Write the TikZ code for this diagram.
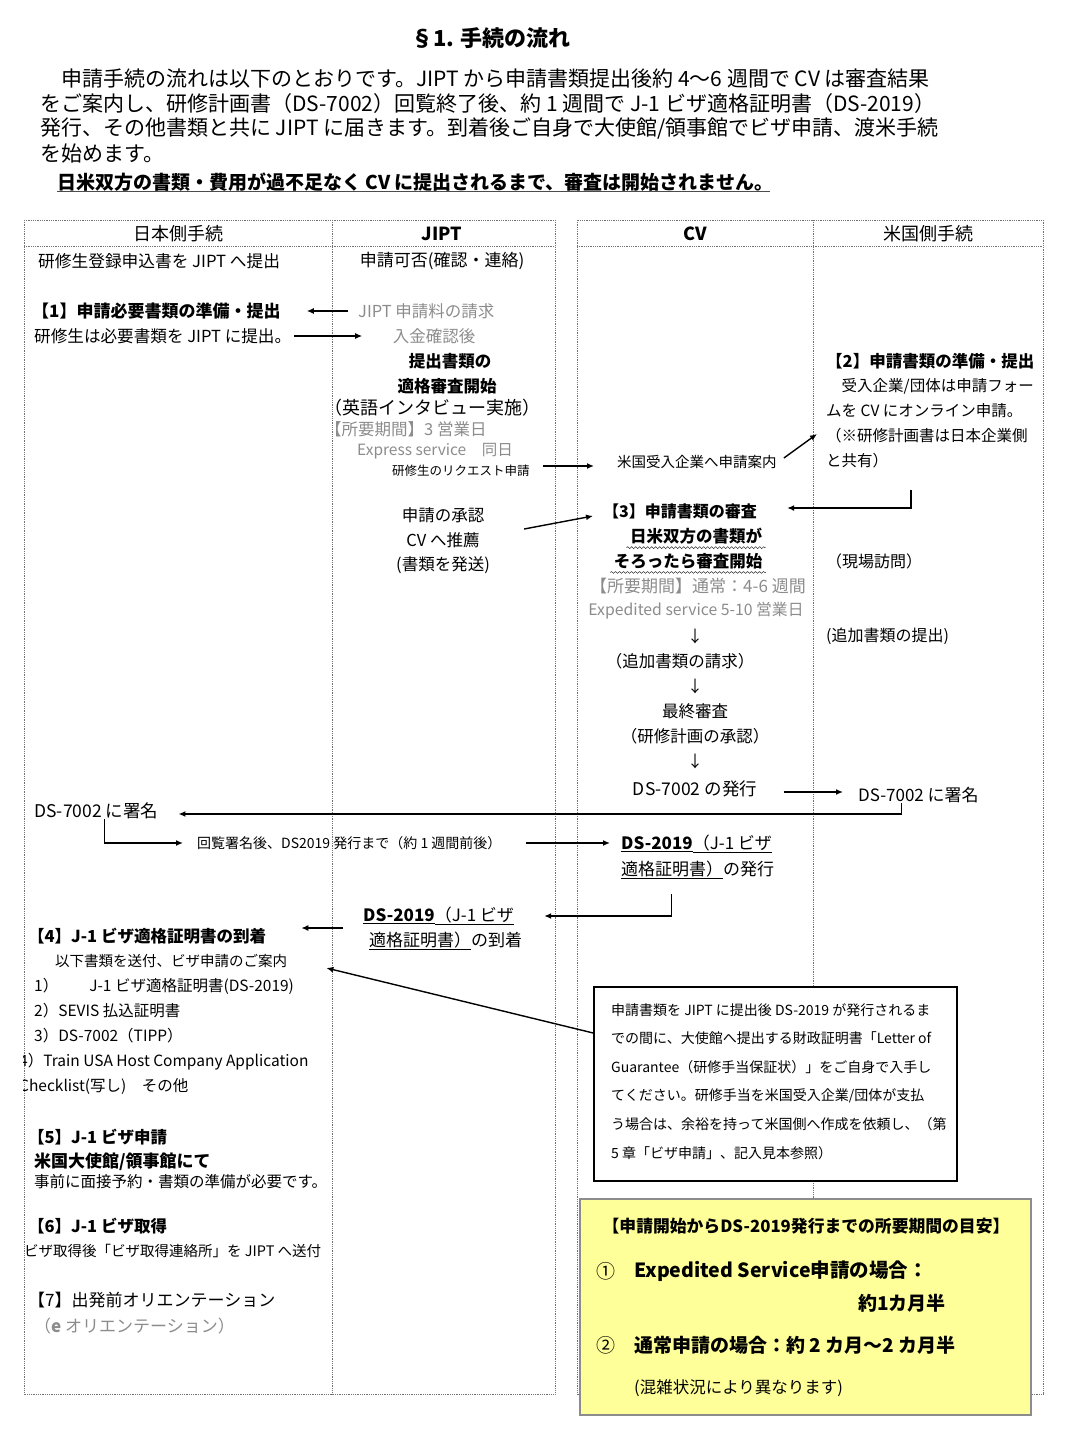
\documentclass[tikz,border=0pt]{standalone}
\usepackage{fontspec}
\setmainfont{Noto Sans CJK JP}
\usetikzlibrary{arrows.meta,decorations.pathmorphing}
\definecolor{notefill}{RGB}{255,255,153}
\colorlet{dimtxt}{black!45}
\tikzset{
  fs/.style={font=\fontsize{#1}{#1}\selectfont},
  bf/.style={font=\fontsize{#1}{#1}\selectfont\bfseries},
  lt/.style={anchor=west, inner sep=0pt},
  arr/.style={-{Latex[length=7pt,width=6pt]}, line width=1.4pt},
  grid/.style={draw=black!55, densely dotted, line width=0.8pt},
  wavy/.style={decorate, decoration={snake, amplitude=0.9pt, segment length=4pt}},
}
\begin{document}
\begin{tikzpicture}[x=1pt, y=-1pt]
      \useasboundingbox (0,0) rectangle (1067,1435);
      \node[bf=22] (title) at (491,38) {§1. 手続の流れ};
      \node[lt, fs=21] (p1) at (40,79) {　申請手続の流れは以下のとおりです。JIPT から申請書類提出後約 4～6 週間で CV は審査結果};
      \node[lt, fs=21] (p2) at (40,104) {をご案内し、研修計画書（DS-7002）回覧終了後、約 1 週間で J-1 ビザ適格証明書（DS-2019）};
      \node[lt, fs=21] (p3) at (40,129) {発行、その他書類と共に JIPT に届きます。到着後ご自身で大使館/領事館でビザ申請、渡米手続};
      \node[lt, fs=21] (p4) at (40,154) {を始めます。};
      \node[lt, bf=19] (warn) at (57,182) {日米双方の書類・費用が過不足なく CV に提出されるまで、審査は開始されません。};
      \draw[line width=1.2pt, black!70] (warn.south west) -- ++(713,0);
      \foreach \a/\b/\c in {24/332/555, 577/813/1043} {
        \draw[grid] (\a,220) rectangle (\c,1394);
        \draw[grid] (\a,246) -- (\c,246);
        \draw[grid] (\b,220) -- (\b,1394);
      }
      \node[fs=18] (hjp) at (178,234) {日本側手続};
      \node[bf=18] (hji) at (442,234) {JIPT};
      \node[bf=18] (hcv) at (695,234) {CV};
      \node[fs=18] (hus) at (928,234) {米国側手続};
      \node[lt, fs=16.7] (reg) at (38,261) {研修生登録申込書を JIPT へ提出};
      \node[lt, bf=17] (s1) at (32,311) {【1】申請必要書類の準備・提出};
      \node[lt, fs=16.6] (sub) at (34,336) {研修生は必要書類を JIPT に提出。};
      \node[fs=17] (ok) at (442,261) {申請可否(確認・連絡)};
      \node[lt, fs=16.5, dimtxt] (fee) at (358,311) {JIPT 申請料の請求};
      \node[fs=16.5, dimtxt] (paid) at (434,336) {入金確認後};
      \node[bf=16.5] (chk1) at (450,361) {提出書類の};
      \node[bf=16.5] (chk2) at (447,386) {適格審査開始};
      \node[fs=18] (intv) at (432,408) {（英語インタビュー実施）};
      \node[lt, fs=16.5, dimtxt] (days) at (325,429) {【所要期間】3 営業日};
      \node[lt, fs=15.5, dimtxt] (expr) at (357,451) {Express service　同日};
      \node[lt, fs=12.5] (req) at (392,471) {研修生のリクエスト申請};
      \node[fs=16.5] (apr1) at (443,515) {申請の承認};
      \node[fs=16.5] (apr2) at (443,540) {CV へ推薦};
      \node[fs=16.5] (apr3) at (443,565) {(書類を発送)};
      \draw[arr] ([xshift=-10pt]fee.west) -- ([xshift=26pt]s1.east);
      \draw[arr] ([xshift=3pt]sub.east) -- ([xshift=-27pt]paid.west);
      \node[lt, bf=16.5] (us1) at (826,361) {【2】申請書類の準備・提出};
      \node[lt, fs=15.5] (us2) at (826,386) {　受入企業/団体は申請フォー};
      \node[lt, fs=15.5] (us3) at (826,411) {ムを CV にオンライン申請。};
      \node[lt, fs=15.5] (us4) at (826,436) {（※研修計画書は日本企業側};
      \node[lt, fs=15.5] (us5) at (826,461) {と共有）};
      \node[lt, fs=16] (visit) at (826,561) {（現場訪問）};
      \node[lt, fs=16] (more) at (826,636) {(追加書類の提出)};
      \node[lt, fs=17] (ussign) at (858,795) {DS-7002 に署名};
      \node[lt, fs=14.5] (guide) at (617,462) {米国受入企業へ申請案内};
      \node[lt, bf=16] (s3) at (603,511) {【3】申請書類の審査};
      \node[bf=16.5] (both1) at (696,536) {日米双方の書類が};
      \node[bf=16.5] (both2) at (688,561) {そろったら審査開始};
      \draw[wavy] (both1.south west) -- (both1.south east);
      \draw[wavy] (both2.south west) -- (both2.south east);
      \node[fs=17, dimtxt] (norm) at (698,586) {【所要期間】通常：4-6 週間};
      \node[fs=15.8, dimtxt] (fast) at (696,611) {Expedited service 5-10 営業日};
      \node[fs=16] (d1) at (695,636) {↓};
      \node[fs=16.5] (ask) at (680,661) {（追加書類の請求）};
      \node[fs=16] (d2) at (695,686) {↓};
      \node[fs=16.5] (fin1) at (695,711) {最終審査};
      \node[fs=16.5] (fin2) at (695,736) {（研修計画の承認）};
      \node[fs=16] (d3) at (695,761) {↓};
      \node[fs=17.5] (iss) at (695,789) {DS-7002 の発行};
      \draw[arr] ([xshift=13pt,yshift=5pt]req.east) -- ([xshift=-23pt,yshift=-4pt]guide.west);
      \draw[arr] ([xshift=7pt,yshift=4pt]guide.east) -- ([xshift=-9pt,yshift=2pt]us4.west);
      \draw[arr] ([xshift=41pt,yshift=11pt]apr2.east) -- ([xshift=-10pt,yshift=-5pt]s3.west);
      \coordinate (turn) at (911,490);
      \draw[arr] (turn) |- ([xshift=30pt,yshift=3pt]s3.east);
      \draw[arr] ([xshift=23pt,yshift=-3pt]iss.east) -- ([xshift=-15pt,yshift=3pt]ussign.west);
      \node[lt, fs=17.5] (jpsign) at (34,811) {DS-7002 に署名};
      \draw[arr, line width=1.8pt] ([xshift=-17pt]ussign.south) |- ([xshift=20pt,yshift=-3pt]jpsign.east);
      \node[lt, fs=14] (circ) at (197,843) {回覧署名後、DS2019 発行まで（約 1 週間前後）};
      \draw[arr] ([xshift=8pt]jpsign.south) |- ([xshift=-14pt]circ.west);
      \node[lt, fs=17] (ds1) at (621,844) {\textbf{\underline{DS-2019}}\underline{（J-1 ビザ}};
      \node[lt, fs=17] (ds2) at (621,870) {\underline{適格証明書）}の発行};
      \draw[arr] ([xshift=24pt]circ.east) -- ([xshift=-11pt,yshift=1pt]ds1.west);
      \node[lt, fs=17] (arr1) at (363,916) {\textbf{\underline{DS-2019}}\underline{（J-1 ビザ}};
      \node[lt, fs=17] (arr2) at (369,941) {\underline{適格証明書）}の到着};
      \draw[arr] ([xshift=-26pt,yshift=-15pt]ds2.south) |- ([xshift=30pt]arr1.east);
      \node[lt, bf=16.5] (s4) at (28,936) {【4】J-1 ビザ適格証明書の到着};
      \draw[arr] ([xshift=-20pt,yshift=-12pt]arr1.west) -- ([xshift=35pt,yshift=8pt]s4.east);
      \node[lt, fs=14.5] (doc) at (55,961) {以下書類を送付、ビザ申請のご案内};
      \node[lt, fs=15.5] (doc1) at (34,986) {1）　　J-1 ビザ適格証明書(DS-2019)};
      \node[lt, fs=15.5] (doc2) at (34,1011) {2）SEVIS 払込証明書};
      \node[lt, fs=15.5] (doc3) at (34,1036) {3）DS-7002（TIPP）};
      \begin{scope}
        \clip (23,1045) rectangle (332,1100);
        \node[lt, fs=15.5] (doc4) at (19,1062) {4）Train USA Host Company Application};
        \node[lt, fs=15.5] (doc5) at (19,1087) {Checklist(写し)　その他};
      \end{scope}
      \node[lt, bf=16.5] (s5) at (28,1137) {【5】J-1 ビザ申請};
      \node[lt, bf=17] (s5a) at (34,1162) {米国大使館/領事館にて};
      \node[lt, fs=15.5] (s5b) at (34,1182) {事前に面接予約・書類の準備が必要です。};
      \node[lt, bf=16.5] (s6) at (28,1226) {【6】J-1 ビザ取得};
      \node[lt, fs=14.5] (s6a) at (24,1251) {ビザ取得後「ビザ取得連絡所」を JIPT へ送付};
      \node[lt, fs=17] (s7) at (28,1300) {【7】出発前オリエンテーション};
      \node[lt, fs=17, dimtxt] (s7a) at (34,1326) {（\textbf{e} オリエンテーション）};
      \node[draw, fill=white, line width=1.6pt, minimum width=363pt, minimum height=194pt, inner sep=0pt] (note) at (775.5,1084) {};
      \foreach \t [count=\i] in {申請書類を JIPT に提出後 DS-2019 が発行されるま, での間に、大使館へ提出する財政証明書「Letter of, Guarantee（研修手当保証状）」をご自身で入手し, てください。研修手当を米国受入企業/団体が支払, う場合は、余裕を持って米国側へ作成を依頼し、（第, 5 章「ビザ申請」、記入見本参照）}
        \node[lt, fs=14] (nt\i) at (611,{1010+28.6*(\i-1)}) {\t};
      \draw[arr] ([yshift=51pt]note.west) -- ([xshift=39pt,yshift=-7pt]doc.east);
      \node[draw=black!45, fill=notefill, line width=1.2pt, minimum width=451pt, minimum height=216pt, inner sep=0pt] (span) at (805.5,1307) {};
      \node[bf=16.8] (sp0) at (806,1226) {【申請開始からDS-2019発行までの所要期間の目安】};
      \node[lt, fs=19] (sp1n) at (596,1271) {①};
      \node[lt, bf=19.5] (sp1) at (634,1271) {Expedited Service申請の場合：};
      \node[lt, bf=19] (sp1b) at (858,1303) {約1カ月半};
      \node[lt, fs=19] (sp2n) at (596,1345) {②};
      \node[lt, bf=19] (sp2) at (634,1345) {通常申請の場合：約 2 カ月～2 カ月半};
      \node[lt, fs=16.5] (sp3) at (634,1388) {(混雑状況により異なります)};
\end{tikzpicture}
\end{document}
